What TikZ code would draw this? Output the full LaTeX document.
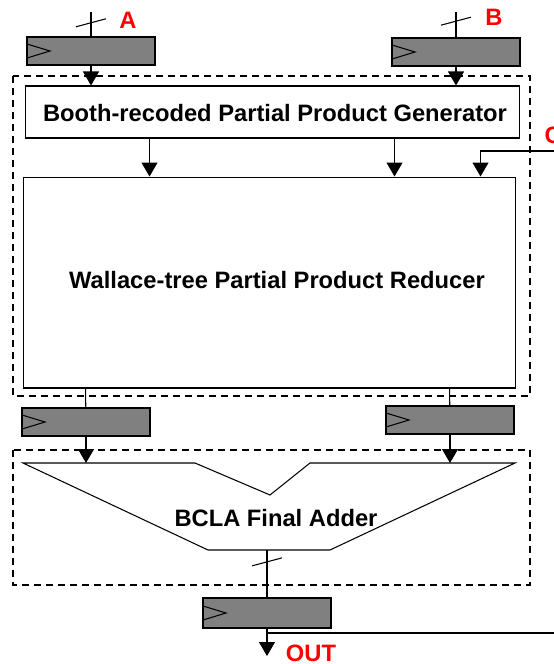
\documentclass[tikz,border=0pt]{standalone}
\usepackage{fontspec}
\setmainfont{Liberation Sans}
\usetikzlibrary{arrows.meta,calc}

\tikzset{
	reg/.style={draw, fill=gray, inner sep=0pt, minimum width=2.56cm, minimum height=0.56cm,
		path picture={\draw (path picture bounding box.west) ++(0cm,0.14cm) -- ++(0.46cm,-0.14cm) -- ++(-0.46cm,-0.14cm);}},
	block/.style={draw, fill=white, inner sep=0pt, font=\bfseries\fontsize{13.5}{16}\selectfont},
	lab/.style={text=red, inner sep=0pt, font=\bfseries\fontsize{13.5}{16}\selectfont},
	frame/.style={dash pattern=on 0.14cm off 0.1cm},
}

\begin{document}
\begin{tikzpicture}[x=0.02cm, y=-0.02cm, line width=0.6pt, >={Triangle[width=0.32cm,length=0.28cm]}]
	\useasboundingbox (0,0) rectangle (554,664);

	% dashed boundaries
	\draw[frame] (13,76) rectangle (530,396);
	\draw[frame] (13,450) rectangle (530,585);

	\node[reg] (regA) at (91,51) {};
	\node[reg] (regB) at (456,52) {};
	\node[block, minimum width=9.9cm, minimum height=1.04cm]  (ppg) at (272.5,112)   {};
	\node[block, minimum width=9.86cm, minimum height=4.22cm] (wal) at (269.5,282.5) {};
	\node[block, draw=none, fill=none] (ppgt) at (275,113) {Booth-recoded Partial Product Generator};
	\node[block, draw=none, fill=none] (walt) at (277,280) {Wallace-tree Partial Product Reducer};
	\node[reg] (regL) at (86,422) {};
	\node[reg] (regR) at (450,420) {};
	\node[reg, minimum height=0.6cm] (regO) at (267,613) {};

	\coordinate (inA) at (91,12);
	\coordinate (inB) at (456,12);
	\coordinate (inC) at (554,151);
	\coordinate (fb)  at (554,633);
	\coordinate (out) at (267,656);

	% taps
	\coordinate (t1) at ($(ppg.south west)+(125,0)$);
	\coordinate (t2) at ($(ppg.south west)+(370,0)$);
	\coordinate (t3) at ($(wal.north west)+(458,0)$);
	\coordinate (t4) at ($(wal.south west)+(63,0)$);
	\coordinate (t5) at ($(wal.south west)+(427,0)$);

	% adder outline
	\coordinate (a1) at (23,463);
	\coordinate (a2) at (195,463);
	\coordinate (a3) at (270,495);
	\coordinate (a4) at (310,463);
	\coordinate (a5) at (515,463);
	\coordinate (a6) at (330,550);
	\coordinate (a7) at (208,550);
	\draw (a1) -- (a2) -- (a3) -- (a4) -- (a5) -- (a6) -- (a7) -- cycle;
	\node[font=\bfseries\fontsize{13.5}{16}\selectfont] (add) at (276,518) {BCLA Final Adder};

	\node[lab] (lA) at (128,20) {A};
	\node[lab] (lB) at (494,17) {B};
	\node[lab, anchor=west] (lC) at (544,135) {C};
	\node[lab] (lO) at (311,653) {OUT};

	% inputs
	\path [-] (inA) edge (regA);
	\path [-] (inB) edge (regB);
	\draw ($(inA)!0.44!(regA.north)$) +(-15,4) -- +(15,-4);
	\draw ($(inB)!0.36!(regB.north)$) +(-15,4) -- +(15,-4);
	\path [->] (regA) edge (regA.south |- ppg.north);
	\path [->] (regB) edge (regB.south |- ppg.north);

	% generator to reducer
	\path [->] (t1) edge (t1 |- wal.north);
	\path [->] (t2) edge (t2 |- wal.north);
	\draw [->] (inC) -| (t3);

	% reducer to adder
	\path [-] (t4) edge (regL);
	\path [-] (t5) edge (regR);
	\path [->] (regL) edge (regL.south |- a1);
	\path [->] (regR) edge (regR.south |- a1);

	% output
	\path [-] (regO.north |- a7) edge (regO);
	\draw ($(regO.north |- a7)!0.25!(regO.north)$) +(-15,4) -- +(15,-4);
	\path [->] (regO) edge (out);
	\path [-] (regO.south |- fb) edge (fb);
\end{tikzpicture}
\end{document}
